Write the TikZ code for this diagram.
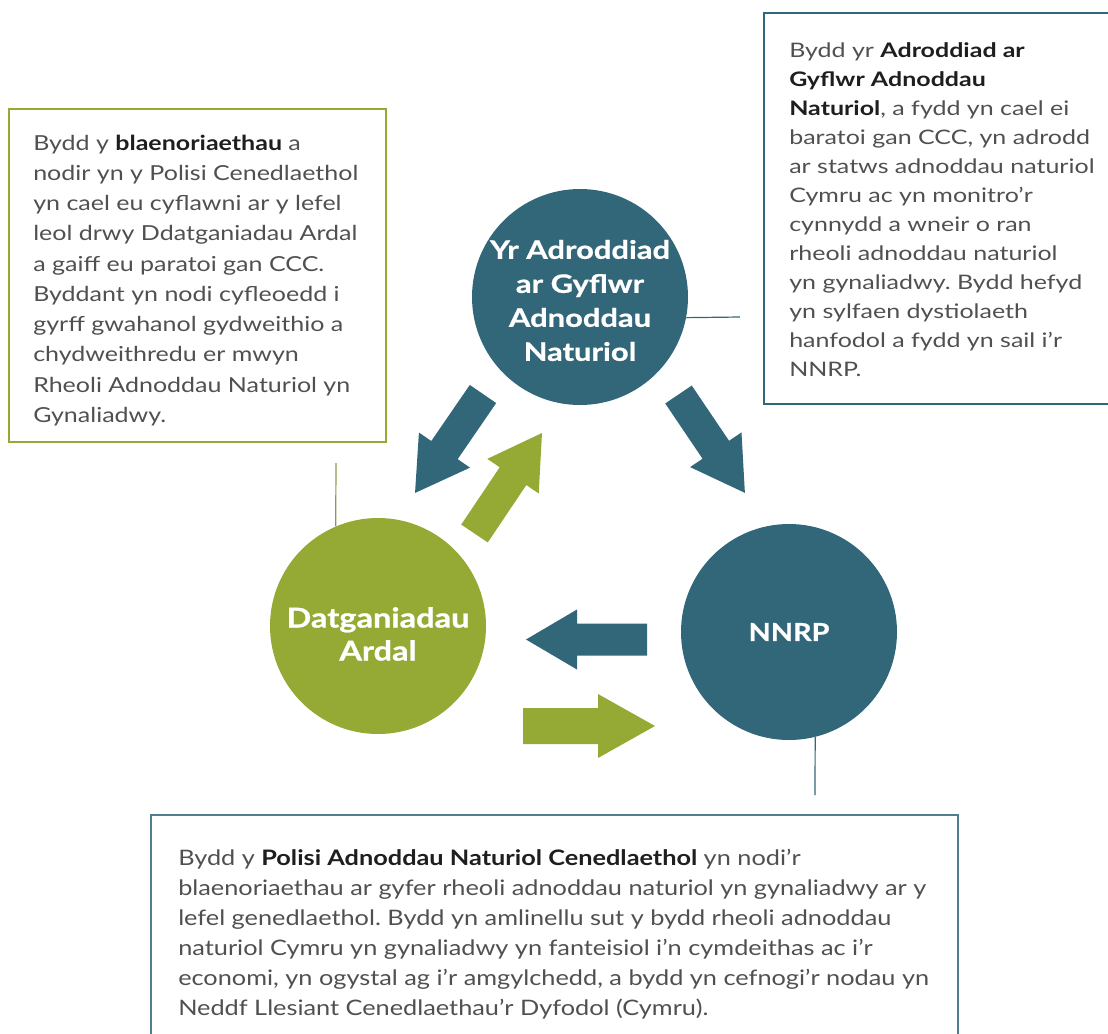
\documentclass[tikz,border=0pt]{standalone}
\usepackage{fontspec}
\setmainfont{Lato}
\newfontfamily\leftfont{Lato}[FakeStretch=1.21]
\newfontfamily\rightfont{Lato}[FakeStretch=1.25]
\newfontfamily\bottomfont{Lato}[FakeStretch=1.186]
\newfontfamily\circfont{Lato}[FakeStretch=1.22, BoldFeatures={FakeBold=0.8}]
\newfontfamily\circfontn{Lato}[FakeStretch=1.17, BoldFeatures={FakeBold=0.8}]
\newfontfamily\circfontb{Lato}[FakeStretch=1.19, BoldFeatures={FakeBold=0.9}]
\usetikzlibrary{calc}
\definecolor{tealc}{RGB}{50,103,121}
\definecolor{greenc}{RGB}{149,170,53}
\definecolor{txtgray}{RGB}{80,80,80}
\definecolor{boldgray}{RGB}{30,30,30}
\newcommand\bt[1]{{\color{boldgray}\bfseries #1}}
% fat arrow: colour, x1, y1 (tail), x2, y2 (tip), shaft half width, head half width, head length
\newcommand\fatarrow[8]{%
  \pgfmathsetmacro\fang{atan2(#5-#3,#4-#2)}%
  \pgfmathsetmacro\flen{veclen(#4-#2,#5-#3)}%
  \begin{scope}[shift={(#2,#3)},rotate=-\fang]
    \fill[#1] (0,-#6) -- (\flen-#8,-#6) -- (\flen-#8,-#7) -- (\flen,0)
      -- (\flen-#8,#7) -- (\flen-#8,#6) -- (0,#6) -- cycle;
  \end{scope}}
\tikzset{
  bubble/.style={circle, minimum size=162pt, inner sep=0pt},
  bubbletext/.style={text=white, align=center, inner sep=0pt},
  txt/.style={anchor=base west, inner sep=0pt, text=txtgray},
  link/.style={line width=0.9pt},
}
\frenchspacing
\begin{document}
\begin{tikzpicture}[x=0.75pt, y=-0.75pt]
\useasboundingbox (0,0) rectangle (1108,1033);
% boxes
\draw[greenc, line width=1.1pt] (9,109) rectangle (386,442);
\draw[tealc, line width=2.2pt] (764,13) rectangle (1125,404);
\draw[tealc!85, line width=1.1pt] (151,815) rectangle (958,1050);
% circles
\node[bubble, fill=tealc] (top) at (580,297) {};
\node[bubble, fill=greenc] (left) at (378,626) {};
\node[bubble, fill=tealc] (nnrp) at (789,632) {};
\node[bubbletext, font=\circfont\fontsize{19pt}{25.5pt}\selectfont\bfseries] (toplbl) at (580,300.5) {Yr Adroddiad\\ar Gyflwr\\Adnoddau\\Naturiol};
\node[bubbletext, font=\circfontb\fontsize{20.5pt}{24.75pt}\selectfont\bfseries] (leftlbl) at (378,634) {Datganiadau\\Ardal};
\node[bubbletext, font=\circfontn\fontsize{18.5pt}{25.5pt}\selectfont\bfseries] (nnrplbl) at (789,632) {NNRP};
% arrows
\fatarrow{tealc}{483}{394}{415}{493}{16}{31}{52}
\fatarrow{tealc}{678.5}{394.5}{745}{493}{16}{31}{52}
\fatarrow{tealc}{647}{639.5}{526}{639.5}{16}{30}{51}
\fatarrow{greenc}{474.5}{533.5}{542}{433}{16}{31}{52}
\fatarrow{greenc}{523}{726}{655}{726}{18}{32}{57}
% connector lines
\coordinate (lend) at (336,463);
\coordinate (tend) at (740,317);
\coordinate (bend) at (815,795);
\draw[link, greenc!60!gray] (left.113) -- (lend);
\draw[link, tealc] (top.-11) -- (tend);
\draw[link, tealc] (nnrp.-76) -- (bend);
% texts
\node[txt] (ltext) at (33,150) {\parbox[t]{360pt}{\leftfont\fontsize{15.5pt}{22.7pt}\selectfont\raggedright
Bydd y \bt{blaenoriaethau} a\\
nodir yn y Polisi Cenedlaethol\\
yn cael eu cyflawni ar y lefel\\
leol drwy Ddatganiadau Ardal\\
a gaiff eu paratoi gan CCC.\\
Byddant yn nodi cyfleoedd i\\
gyrff gwahanol gydweithio a\\
chydweithredu er mwyn\\
Rheoli Adnoddau Naturiol yn\\
Gynaliadwy.}};
\node[txt] (rtext) at (789,57) {\parbox[t]{360pt}{\rightfont\fontsize{15pt}{21.75pt}\selectfont\raggedright
Bydd yr \bt{Adroddiad ar}\\
\bt{Gyflwr Adnoddau}\\
\bt{Naturiol}, a fydd yn cael ei\\
baratoi gan CCC, yn adrodd\\
ar statws adnoddau naturiol\\
Cymru ac yn monitro’r\\
cynnydd a wneir o ran\\
rheoli adnoddau naturiol\\
yn gynaliadwy. Bydd hefyd\\
yn sylfaen dystiolaeth\\
hanfodol a fydd yn sail i’r\\
NNRP.}};
\node[txt] (btext) at (178,865) {\parbox[t]{800pt}{\bottomfont\fontsize{16pt}{22.5pt}\selectfont\raggedright
Bydd y \bt{Polisi Adnoddau Naturiol Cenedlaethol} yn nodi’r\\
blaenoriaethau ar gyfer rheoli adnoddau naturiol yn gynaliadwy ar y\\
lefel genedlaethol. Bydd yn amlinellu sut y bydd rheoli adnoddau\\
naturiol Cymru yn gynaliadwy yn fanteisiol i’n cymdeithas ac i’r\\
economi, yn ogystal ag i’r amgylchedd, a bydd yn cefnogi’r nodau yn\\
Neddf Llesiant Cenedlaethau’r Dyfodol (Cymru).}};
\end{tikzpicture}
\end{document}
